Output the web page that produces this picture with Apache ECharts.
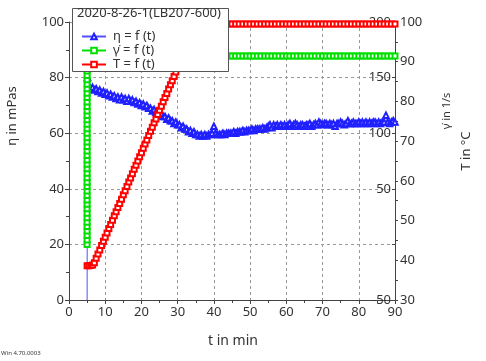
<!DOCTYPE html>
<html><head><meta charset="utf-8">
<script src="https://cdn.jsdelivr.net/npm/echarts@6/dist/echarts.min.js"></script>
<style>html,body{margin:0;padding:0;background:#fff}#c{width:486px;height:361px}</style>
</head><body><div id="c"></div>
<script>
// ---- data (t in min) ----
const legendTitle = '2020-8-26-1(LB207-600)';
const seriesNames = ['η = f (t)', 'γ̇ = f (t)', 'T = f (t)'];
const xTicks = [0,10,20,30,40,50,60,70,80,90];

// viscosity η (mPas)
const etaPoints = [
[5,0],[5.1,80],
[5.5,77],[6,76],[6.5,76.5],[7,75.5],[7.5,76],[8,75],[8.5,75.5],[9,74.5],[9.5,75],[10,74],
[10.5,74.5],[11,73.5],[11.5,74],[12,73],[12.5,73.5],[13,72.5],[13.5,73],[14,72],[14.5,73],[15,72],
[15.5,72.5],[16,71.5],[16.5,72.5],[17,71.5],[17.5,72],[18,71],[18.5,71.5],[19,70.5],[19.5,71],[20,70],
[20.5,70.5],[21,69.5],[21.5,70],[22,69],[22.5,69],[23,68],[23.5,68.5],[24,67.5],[24.5,67.5],[25,66.5],
[25.5,67],[26,66],[26.5,66],[27,65],[27.5,65.5],[28,64.5],[28.5,64.5],[29,63.5],[29.5,64],[30,63],
[30.5,63],[31,62],[31.5,62.5],[32,61.5],[32.5,61.5],[33,60.5],[33.5,61],[34,60],[34.5,60.5],[35,59.5],
[35.5,59.5],[36,59],[36.5,59.5],[37,59],[37.5,59.5],[38,59],[38.5,59.5],[39,59.5],[39.5,60],[40,62.5],
[40.5,60],[41,59.5],[41.5,59.5],[42,59.5],[42.5,60],[43,59.5],[43.5,60],[44,60],[44.5,60],[45,60],
[45.5,60.5],[46,60],[46.5,60.5],[47,60.5],[47.5,60.5],[48,61],[48.5,60.5],[49,61],[49.5,61],[50,61],
[50.5,61.5],[51,61],[51.5,61.5],[52,61.5],[52.5,61.5],[53,61.5],[53.5,62],[54,61.5],[54.5,62],[55,62.5],
[55.5,63],[56,62],[56.5,63],[57,62.5],[57.5,63],[58,62.5],[58.5,63],[59,62.5],[59.5,63],[60,62.5],
[60.5,63],[61,63.5],[61.5,62.5],[62,63],[62.5,63.5],[63,63],[63.5,62.5],[64,63],[64.5,63],[65,62.5],
[65.5,63],[66,63],[66.5,63.5],[67,62.5],[67.5,63],[68,63.5],[68.5,63],[69,64],[69.5,63.5],[70,63],
[70.5,63.5],[71,63.5],[71.5,63],[72,63.5],[72.5,63],[73,63.5],[73.5,62.5],[74,63.5],[74.5,63.5],[75,64],
[75.5,63.5],[76,63],[76.5,63.5],[77,64.5],[77.5,63.5],[78,63.5],[78.5,64],[79,63.5],[79.5,63.5],[80,64],
[80.5,63.5],[81,64],[81.5,63.5],[82,64],[82.5,63.5],[83,64],[83.5,63.5],[84,64],[84.5,64],[85,63.5],
[85.5,64],[86,63.5],[86.5,64],[87,64],[87.5,66.5],[88,64],[88.5,63.5],[89,64],[89.5,64.5],[90,64]
];

// shear rate γ̇ (1/s)
const gammaPoints = [
[5,0],[5,4],[5,8],[5,12],[5,16],[5,20],[5,24],[5,28],[5,32],[5,36],[5,40],[5,44],[5,48],[5,52],
[5,56],[5,60],[5,64],[5,68],[5,72],[5,76],[5,80],[5,84],[5,88],[5,92],[5,96],[5,100],[5,104],[5,108],
[5,112],[5,116],[5,120],[5,124],[5,128],[5,132],[5,136],[5,140],[5,144],[5,148],[5,152],[5,156],
[5,160],[5,164],[5,168],[5.3,169.5],
[6,169.5],[7,169.5],[8,169.5],[9,169.5],[10,169.5],[11,169.5],[12,169.5],[13,169.5],[14,169.5],[15,169.5],
[16,169.5],[17,169.5],[18,169.5],[19,169.5],[20,169.5],[21,169.5],[22,169.5],[23,169.5],[24,169.5],[25,169.5],
[26,169.5],[27,169.5],[28,169.5],[29,169.5],[30,169.5],[31,169.5],[32,169.5],[33,169.5],[34,169.5],[35,169.5],
[36,169.5],[37,169.5],[38,169.5],[39,169.5],[40,169.5],[41,169.5],[42,169.5],[43,169.5],[44,169.5],[45,169.5],
[46,169.5],[47,169.5],[48,169.5],[49,169.5],[50,169.5],[51,169.5],[52,169.5],[53,169.5],[54,169.5],[55,169.5],
[56,169.5],[57,169.5],[58,169.5],[59,169.5],[60,169.5],[61,169.5],[62,169.5],[63,169.5],[64,169.5],[65,169.5],
[66,169.5],[67,169.5],[68,169.5],[69,169.5],[70,169.5],[71,169.5],[72,169.5],[73,169.5],[74,169.5],[75,169.5],
[76,169.5],[77,169.5],[78,169.5],[79,169.5],[80,169.5],[81,169.5],[82,169.5],[83,169.5],[84,169.5],[85,169.5],
[86,169.5],[87,169.5],[88,169.5],[89,169.5],[90,169.5]
];

// temperature T (°C)
const tempPoints = [
[5,38.6],[5.5,38.6],[6,38.7],[6.5,38.8],[7,39.4],[7.5,40.5],[8,41.6],[8.5,42.6],[9,43.7],[9.5,44.8],
[10,45.8],[10.5,46.9],[11,48.0],[11.5,49.0],[12,50.1],[12.5,51.2],[13,52.2],[13.5,53.3],[14,54.3],[14.5,55.4],
[15,56.5],[15.5,57.5],[16,58.6],[16.5,59.7],[17,60.7],[17.5,61.8],[18,62.9],[18.5,63.9],[19,65.0],[19.5,66.1],
[20,67.1],[20.5,68.2],[21,69.3],[21.5,70.3],[22,71.4],[22.5,72.5],[23,73.5],[23.5,74.6],[24,75.6],[24.5,76.7],
[25,77.8],[25.5,78.8],[26,79.9],[26.5,81.0],[27,82.0],[27.5,83.1],[28,84.2],[28.5,85.2],[29,86.3],[29.5,87.4],
[30,88.4],[30.5,89.5],[31,90.6],[31.5,91.6],[32,92.7],[32.5,93.7],[33,94.8],[33.5,95.9],[34,96.9],[34.5,98.0],
[35,99.1],[35.5,99.5],
[36,99.5],[37,99.5],[38,99.5],[39,99.5],[40,99.5],[41,99.5],[42,99.5],[43,99.5],[44,99.5],[45,99.5],
[46,99.5],[47,99.5],[48,99.5],[49,99.5],[50,99.5],[51,99.5],[52,99.5],[53,99.5],[54,99.5],[55,99.5],
[56,99.5],[57,99.5],[58,99.5],[59,99.5],[60,99.5],[61,99.5],[62,99.5],[63,99.5],[64,99.5],[65,99.5],
[66,99.5],[67,99.5],[68,99.5],[69,99.5],[70,99.5],[71,99.5],[72,99.5],[73,99.5],[74,99.5],[75,99.5],
[76,99.5],[77,99.5],[78,99.5],[79,99.5],[80,99.5],[81,99.5],[82,99.5],[83,99.5],[84,99.5],[85,99.5],
[86,99.5],[87,99.5],[88,99.5],[89,99.5],[90,99.5]
];

// ---- chart ----
const FONT = 'Noto Sans';
const TXT = '#333';
const AX = '#444';
const chart = echarts.init(document.getElementById('c'), null, {renderer: 'canvas'});

const etaData = etaPoints.map((p, i) => i === 0 ? {value: p, symbol: 'none'} : p);

chart.setOption({
  animation: false,
  backgroundColor: '#fff',
  grid: {left: 69, right: 91, top: 22, bottom: 61, containLabel: false},
  xAxis: {
    type: 'value', min: xTicks[0], max: xTicks[xTicks.length - 1], interval: 10,
    axisLine: {show: true, lineStyle: {color: AX, width: 1}},
    axisTick: {show: true, length: 4, lineStyle: {color: AX}},
    minorTick: {show: true, splitNumber: 2, length: 3, lineStyle: {color: AX}},
    axisLabel: {color: TXT, fontFamily: FONT, fontSize: 13, margin: 6},
    splitLine: {show: true, lineStyle: {color: '#999', type: [3, 3], width: 1}}
  },
  yAxis: [
    {
      type: 'value', position: 'left', min: 0, max: 100, interval: 20,
      axisLine: {show: true, lineStyle: {color: AX}},
      axisTick: {show: true, length: 4, lineStyle: {color: AX}},
      minorTick: {show: true, splitNumber: 2, length: 3, lineStyle: {color: AX}},
      axisLabel: {color: TXT, fontFamily: FONT, fontSize: 13, margin: 5},
      splitLine: {show: true, lineStyle: {color: '#999', type: [3, 3], width: 1}}
    },
    {
      type: 'value', position: 'right', offset: 0, min: -50, max: 200, interval: 50,
      axisLine: {show: true, lineStyle: {color: AX}},
      axisTick: {show: true, inside: true, length: 3, lineStyle: {color: AX}},
      axisLabel: {inside: true, color: TXT, fontFamily: FONT, fontSize: 13, margin: 4,
        formatter: v => v === 0 ? '' : String(v)},
      splitLine: {show: false}
    },
    {
      type: 'value', position: 'right', offset: 0, min: 30, max: 100, interval: 10,
      axisLine: {show: true, lineStyle: {color: AX}},
      axisTick: {show: true, length: 3, lineStyle: {color: AX}},
      minorTick: {show: true, splitNumber: 2, length: 3, lineStyle: {color: AX}},
      axisLabel: {color: TXT, fontFamily: FONT, fontSize: 13, margin: 5},
      splitLine: {show: false}
    }
  ],
  legend: {
    orient: 'vertical', left: 76, top: 25, itemGap: 1, itemWidth: 24, itemHeight: 7,
    data: seriesNames, z: 60, selectedMode: false,
    textStyle: {color: TXT, fontFamily: FONT, fontSize: 13, padding: [0, 0, 0, 2]}
  },
  graphic: {elements: [
    {type: 'rect', z: 50, shape: {x: 72.5, y: 8.5, width: 156, height: 63},
      style: {fill: '#fff', stroke: '#555', lineWidth: 1}},
    {type: 'text', z: 51, x: 77, y: 7, style: {text: legendTitle, fill: TXT, font: '13px "Noto Sans"'}},
    {type: 'text', x: 12, y: 116, rotation: Math.PI / 2,
      style: {text: 'η in mPas', fill: TXT, font: '13px "Noto Sans"', align: 'center', verticalAlign: 'middle'}},
    {type: 'text', x: 447, y: 111, rotation: Math.PI / 2,
      style: {text: 'γ̇ in 1/s', fill: TXT, font: '11px "Noto Sans"', align: 'center', verticalAlign: 'middle'}},
    {type: 'text', x: 466, y: 151, rotation: Math.PI / 2,
      style: {text: 'T in °C', fill: TXT, font: '13px "Noto Sans"', align: 'center', verticalAlign: 'middle'}},
    {type: 'text', x: 233, y: 341,
      style: {text: 't in min', fill: TXT, font: '14px "Noto Sans"', align: 'center', verticalAlign: 'middle'}},
    {type: 'text', x: 1, y: 353,
      style: {text: 'Win 4.70.0003', fill: '#333', font: '6px "Noto Sans"', verticalAlign: 'middle'}}
  ]},
  series: [
    {
      name: seriesNames[0], type: 'line', yAxisIndex: 0, data: etaData,
      symbol: 'emptyTriangle', symbolSize: 5.5, showAllSymbol: true,
      itemStyle: {color: '#2020ff', borderWidth: 0.8},
      lineStyle: {color: '#5050ff', width: 1}, z: 2
    },
    {
      name: seriesNames[1], type: 'line', yAxisIndex: 1, data: gammaPoints,
      symbol: 'emptyRect', symbolSize: 5, showAllSymbol: true,
      itemStyle: {color: '#00e000', borderWidth: 0.8},
      lineStyle: {color: '#00e000', width: 1}, z: 3
    },
    {
      name: seriesNames[2], type: 'line', yAxisIndex: 2, data: tempPoints,
      symbol: 'emptyRect', symbolSize: 5, showAllSymbol: true,
      itemStyle: {color: '#ff0000', borderWidth: 0.8},
      lineStyle: {color: '#ff0000', width: 1}, z: 4
    }
  ]
});
</script></body></html>
